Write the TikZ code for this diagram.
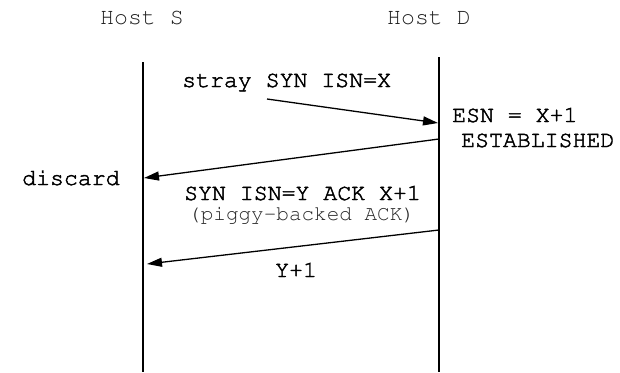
\documentclass[tikz,border=0pt]{standalone}
\usepackage[T1]{fontenc}
\renewcommand{\ttdefault}{pcr}
\usetikzlibrary{arrows.meta}
% slightly heavier glyphs: fill and stroke the outlines
\newcommand{\heavytext}[1]{\special{pdf:literal direct 2 Tr 0.45 w}#1\special{pdf:literal direct 0 Tr}}
\begin{document}
\begin{tikzpicture}[x=1pt,y=-1pt,
  lbl/.style={inner sep=0pt,anchor=base west,font=\ttfamily\fontsize{23.2}{26}\selectfont},
  hostlbl/.style={lbl,text=black!88},
  notelbl/.style={inner sep=0pt,anchor=base west,font=\ttfamily\fontsize{21}{24}\selectfont,text=black!85},
  lifeline/.style={line width=1.3pt},
  msg/.style={line width=1.3pt,-{Triangle[length=15pt,width=9pt]}}]
\useasboundingbox (0,0) rectangle (620,372);
% host headings
\node[hostlbl] (hostS) at (100,24) {Host S};
\node[hostlbl] (hostD) at (387,24) {Host D};
% lifelines
\coordinate (sTop) at (143,62);
\coordinate (sBot) at (143,372);
\coordinate (dTop) at (439,57);
\coordinate (dBot) at (439,372);
\draw[lifeline] (sTop) -- (sBot);
\draw[lifeline] (dTop) -- (dBot);
% message end points
\coordinate (m1from) at (267,99);
\coordinate (m1to) at (438,123);
\coordinate (m2from) at (439,139);
\coordinate (m2to) at (144,178);
\coordinate (m3from) at (439,230);
\coordinate (m3to) at (147,264);
\draw[msg] (m1from) -- (m1to);
\draw[msg] (m2from) -- (m2to);
\draw[msg] (m3from) -- (m3to);
% labels
\node[lbl] (stray) at (182,87) {\heavytext{stray SYN ISN=X}};
\node[lbl] (esn) at (452,122) {\heavytext{ESN = X+1}};
\node[lbl] (est) at (461,147) {\heavytext{ESTABLISHED}};
\node[lbl] (discard) at (22,185) {\heavytext{discard}};
\node[lbl] (synack) at (184,200) {\heavytext{SYN ISN=Y ACK X+1}};
\node[notelbl] (piggy) at (188,220) {(piggy-backed ACK)};
\node[lbl] (ack) at (275,277) {\heavytext{Y+1}};
\end{tikzpicture}
\end{document}
